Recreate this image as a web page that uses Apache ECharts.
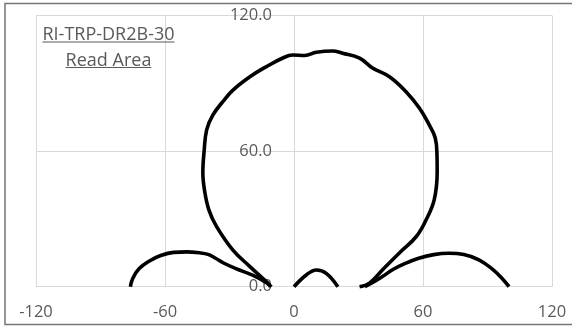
<!DOCTYPE html>
<html>
<head>
<meta charset="utf-8">
<title>RI-TRP-DR2B-30 Read Area</title>
<script src="https://cdn.jsdelivr.net/npm/echarts@6/dist/echarts.min.js"></script>
<style>
  html, body { margin: 0; padding: 0; background: #ffffff; }
  #chart { width: 572px; height: 326px; }
</style>
</head>
<body>
<div id="chart"></div>
<script>
// Read-area contour of the antenna, as x/y pairs (horizontal offset, height)
const mainLobeX = [-11, -12.2, -20.5, -28.4, -36.0, -39.6, -41.6, -42.4, -41.8, -40.6, -37.7, -33.1, -28.4, -20.5, -12.8, -5.2, -0.6, 5.0, 10.4, 17.9, 22.6, 30.5, 36.5, 44.4, 52.1, 58.3, 62.9, 65.7, 66.5, 66.6, 65.2, 61.4, 56.8, 49.0, 41.1, 35.1, 30.5];
const mainLobeY = [0, 1.6, 8.9, 16.2, 26.6, 34.0, 42.5, 50.5, 60.0, 69.5, 76.0, 81.9, 87.0, 92.9, 97.4, 101.2, 102.5, 102.3, 103.7, 104.3, 103.3, 101.1, 96.8, 92.9, 86.3, 79.1, 71.6, 65.8, 58.3, 51.0, 38.4, 29.5, 22.1, 14.9, 7.4, 1.6, 0];

const leftLobeX = [-76.1, -75, -72, -67, -62, -56, -50, -44, -40, -36.5, -33, -27, -19, -13, -10.5];
const leftLobeY = [0, 3.6, 8.0, 11.5, 13.8, 15.2, 15.4, 15.0, 14.3, 12.6, 10.6, 8.0, 5.0, 1.9, 0];

const rightLobeX = [33, 36, 41, 46, 52, 58, 65, 72, 79, 86, 92, 96.5, 100];
const rightLobeY = [0, 1.5, 4.4, 7.6, 10.4, 12.6, 14.2, 14.8, 14.2, 11.9, 8.0, 4.0, 0];

const centerLobeX = [0, 5.7, 10.4, 15.0, 20.4];
const centerLobeY = [0, 5.2, 7.4, 5.9, 0];

const xTicks = { min: -120, max: 120, step: 60 };
const yTicks = { min: 0, max: 120, step: 60 };

const titleLines = ['RI-TRP-DR2B-30', 'Read Area'];

const pairs = (xs, ys) => xs.map((x, i) => [x, ys[i]]);

const FONT = '"Open Sans", "Noto Sans", sans-serif';
const GREY_TEXT = '#595959';
const GRID_GREY = '#d9d9d9';

const chart = echarts.init(document.getElementById('chart'), null, { renderer: 'canvas' });

const curveStyle = { color: '#000000', width: 3.6 };
const makeSeries = (name, xs, ys) => ({
  name: name,
  type: 'line',
  data: pairs(xs, ys),
  smooth: 0.4,
  showSymbol: false,
  symbol: 'none',
  lineStyle: curveStyle,
  itemStyle: { color: '#000000' },
  clip: false
});

// underline widths measured with the same font used to draw the text
const measureCtx = document.createElement('canvas').getContext('2d');
const titleFontSize = 18;
measureCtx.font = titleFontSize + 'px ' + FONT;
const titleCenterX = 108.5;
const titleBaselines = [40, 65.5];

const titleGraphics = [];
titleLines.forEach((line, i) => {
  const w = measureCtx.measureText(line).width;
  titleGraphics.push({
    type: 'text',
    x: titleCenterX,
    y: titleBaselines[i] + 4,
    style: {
      text: line,
      font: titleFontSize + 'px ' + FONT,
      fill: GREY_TEXT,
      textAlign: 'center',
      textVerticalAlign: 'bottom',
      verticalAlign: 'bottom'
    },
    z: 10
  });
  titleGraphics.push({
    type: 'line',
    shape: { x1: titleCenterX - w / 2, y1: titleBaselines[i] + 2, x2: titleCenterX + w / 2, y2: titleBaselines[i] + 2 },
    style: { stroke: GREY_TEXT, lineWidth: 1 },
    z: 10
  });
});

// y labels sit beside the x = 0 line; the axis itself stays on the left edge
const gridLeft = 36, gridRight = 20;
const plotWidth = 572 - gridLeft - gridRight;
const zeroOffset = plotWidth * (0 - xTicks.min) / (xTicks.max - xTicks.min);

chart.setOption({
  animation: false,
  backgroundColor: '#ffffff',
  grid: { left: gridLeft, right: gridRight, top: 15.5, bottom: 39.3, outerBoundsMode: 'none', containLabel: false },
  xAxis: {
    type: 'value',
    min: xTicks.min,
    max: xTicks.max,
    interval: xTicks.step,
    axisLine: { show: true, onZero: false, lineStyle: { color: GRID_GREY, width: 1 } },
    axisTick: { show: false },
    splitLine: { show: true, lineStyle: { color: GRID_GREY, width: 1 } },
    axisLabel: { color: GREY_TEXT, fontFamily: FONT, fontSize: 16.5, margin: 17 }
  },
  yAxis: {
    type: 'value',
    position: 'left',
    min: yTicks.min,
    max: yTicks.max,
    interval: yTicks.step,
    axisLine: { show: false, onZero: false },
    axisTick: { show: false },
    splitLine: { show: true, lineStyle: { color: GRID_GREY, width: 1 } },
    axisLabel: {
      color: GREY_TEXT, fontFamily: FONT, fontSize: 16.5, margin: 22 - zeroOffset,
      formatter: v => v.toFixed(1)
    }
  },
  series: [
    makeSeries('main', mainLobeX, mainLobeY),
    makeSeries('left', leftLobeX, leftLobeY),
    makeSeries('right', rightLobeX, rightLobeY),
    makeSeries('center', centerLobeX, centerLobeY)
  ],
  graphic: [
    {
      type: 'rect',
      shape: { x: 5, y: 3.5, width: 572, height: 321 },
      style: { fill: 'none', stroke: '#767676', lineWidth: 1.5 },
      silent: true
    }
  ].concat(titleGraphics)
});
</script>
</body>
</html>
